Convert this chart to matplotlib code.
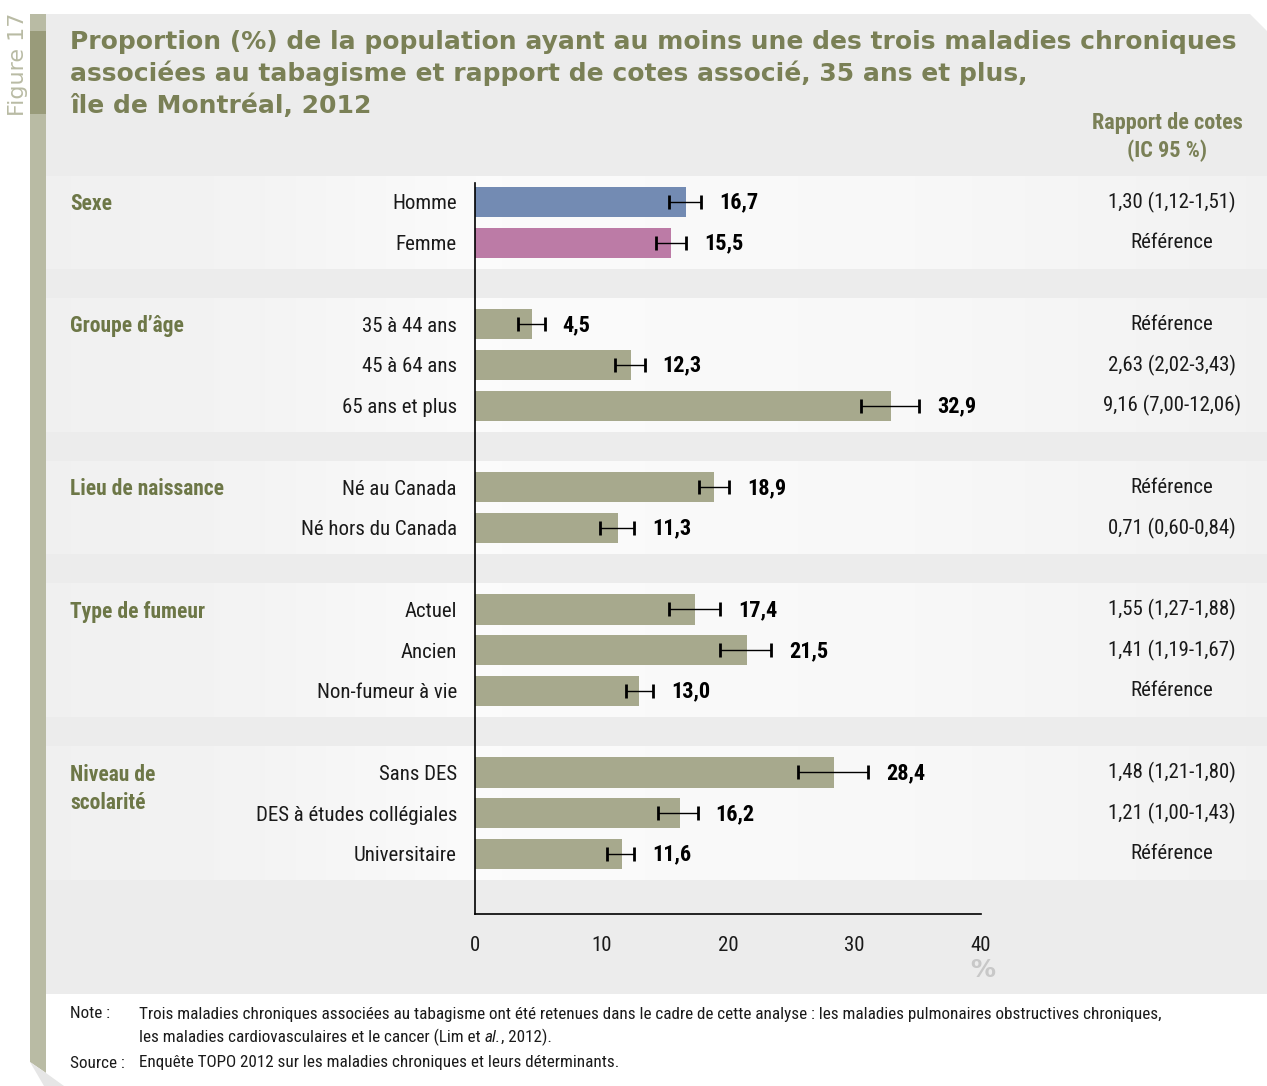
"""Proportion de la population ayant au moins une maladie chronique associée au tabagisme, Montréal 2012."""

import matplotlib

matplotlib.use("Agg")
import matplotlib.pyplot as plt
import numpy as np
from matplotlib import font_manager
from matplotlib.patches import Polygon, Rectangle
from matplotlib.transforms import blended_transform_factory

W, H = 1267, 1086

GROUPS = ["Sexe", "Groupe d’âge", "Lieu de naissance", "Type de fumeur", "Niveau de\nscolarité"]
CATEGORIES = [
    ["Homme", "Femme"],
    ["35 à 44 ans", "45 à 64 ans", "65 ans et plus"],
    ["Né au Canada", "Né hors du Canada"],
    ["Actuel", "Ancien", "Non-fumeur à vie"],
    ["Sans DES", "DES à études collégiales", "Universitaire"],
]
PROPORTION = [[16.7, 15.5], [4.5, 12.3, 32.9], [18.9, 11.3], [17.4, 21.5, 13.0], [28.4, 16.2, 11.6]]
CI_LOW = [[15.3, 14.3], [3.4, 11.1, 30.5], [17.7, 9.9], [15.3, 19.4, 11.9], [25.5, 14.5, 10.4]]
CI_HIGH = [[17.9, 16.7], [5.5, 13.4, 35.1], [20.1, 12.6], [19.4, 23.4, 14.1], [31.1, 17.6, 12.6]]
ODDS_RATIO = [
    ["1,30 (1,12-1,51)", "Référence"],
    ["Référence", "2,63 (2,02-3,43)", "9,16 (7,00-12,06)"],
    ["Référence", "0,71 (0,60-0,84)"],
    ["1,55 (1,27-1,88)", "1,41 (1,19-1,67)", "Référence"],
    ["1,48 (1,21-1,80)", "1,21 (1,00-1,43)", "Référence"],
]
XTICKS = [0, 10, 20, 30, 40]

TITLE = [
    "Proportion (%) de la population ayant au moins une des trois maladies chroniques",
    "associées au tabagisme et rapport de cotes associé, 35 ans et plus,",
    "île de Montréal, 2012",
]

PANEL = "#ECECEC"
OLIVE_LIGHT = "#B9BBA4"
OLIVE_DARK = "#999B7A"
TITLE_COLOR = "#7A8056"
GROUP_COLOR = "#6D7747"
BAR_OLIVE = "#A7A98D"
SEX_COLORS = ["#738BB3", "#BC7BA6"]

# layout in pixels
ROW0_PX, ROW_PX = 202, 40.75
AX_LEFT, AX_RIGHT, AX_TOP, AX_BOTTOM = 475, 981, 183, 914


def pick_font(candidates):
    names = {f.name for f in font_manager.fontManager.ttflist}
    for c in candidates:
        if c in names:
            return c
    return "DejaVu Sans"


COND = pick_font(["Liberation Sans Narrow", "Roboto Condensed", "Open Sans Condensed", "Roboto"])


def main():
    # flatten rows, leaving one empty row between groups
    pos, labels, vals, lo, hi, ors, colors, group_pos = [], [], [], [], [], [], [], []
    p = 0
    for g, cats in enumerate(CATEGORIES):
        group_pos.append(p)
        for i, c in enumerate(cats):
            pos.append(p)
            labels.append(c)
            vals.append(PROPORTION[g][i])
            lo.append(CI_LOW[g][i])
            hi.append(CI_HIGH[g][i])
            ors.append(ODDS_RATIO[g][i])
            colors.append(SEX_COLORS[i] if g == 0 else BAR_OLIVE)
            p += 1
        p += 1
    pos = np.array(pos)
    vals = np.array(vals)
    lo = np.array(lo)
    hi = np.array(hi)

    fig = plt.figure(figsize=(W / 100, H / 100), dpi=100)
    fig.patch.set_facecolor("white")

    # --- background decoration (pixel coords) ---
    bg = fig.add_axes([0, 0, 1, 1])
    bg.axis("off")
    bg.add_patch(Polygon([(46, 14), (1250, 14), (1267, 31), (1267, 994), (46, 994)],
                         closed=True, fc=PANEL, ec="none", zorder=0))
    bg.add_patch(Polygon([(30, 14), (46, 14), (46, 1073), (30, 1062)], closed=True,
                         fc=OLIVE_LIGHT, ec="none", zorder=1))
    bg.add_patch(Rectangle((30, 31), 16, 83, fc=OLIVE_DARK, ec="none", zorder=2))
    bg.add_patch(Polygon([(30, 1062), (46, 1073), (64, 1086), (44, 1086)], closed=True,
                         fc="#E6E6E6", ec="none", zorder=1))

    # group bands with a soft horizontal gradient
    xs = np.linspace(46, W, 300)
    alpha = np.interp(xs, [46, 250, 480, 900, W], [0.25, 0.4, 0.8, 0.65, 0.3])
    grad = np.ones((1, len(xs), 4))
    grad[0, :, 3] = alpha
    for g, cats in enumerate(CATEGORIES):
        top = ROW0_PX + (group_pos[g] - 0.62) * ROW_PX
        bot = ROW0_PX + (group_pos[g] + len(cats) - 1 + 0.65) * ROW_PX
        bg.imshow(grad, extent=(46, W, bot, top), aspect="auto", interpolation="bilinear", zorder=1)
    bg.set_xlim(0, W)
    bg.set_ylim(H, 0)

    bg.text(18, 13, "Figure 17", rotation=90, ha="center", va="top", fontsize=16,
            color=OLIVE_LIGHT, family="DejaVu Sans")
    for i, line in enumerate(TITLE):
        bg.text(70, 49 + i * 32, line, ha="left", va="baseline", fontsize=18, fontweight="bold",
                color=TITLE_COLOR, family="DejaVu Sans")
    bg.text(1167, 123, "Rapport de cotes", ha="center", va="center", fontsize=16,
            fontweight="bold", color=TITLE_COLOR, family=COND)
    bg.text(1167, 151, "(IC 95 %)", ha="center", va="center", fontsize=16,
            fontweight="bold", color=TITLE_COLOR, family=COND)
    bg.text(983, 970, "%", ha="center", va="center", fontsize=18, fontweight="bold",
            color="#C8C8C8", family="DejaVu Sans")

    # --- notes ---
    note_kw = dict(fontsize=12.3, color="#1A1A1A", family=COND, va="center", ha="left")
    bg.text(70, 1014, "Note :", **note_kw)
    bg.text(139, 1014, "Trois maladies chroniques associées au tabagisme ont été retenues dans le cadre "
            "de cette analyse : les maladies pulmonaires obstructives chroniques,", **note_kw)
    renderer = fig.canvas.get_renderer()
    x = 139
    for piece, style in [("les maladies cardiovasculaires et le cancer (Lim et ", "normal"),
                         ("al.", "italic"), (", 2012).", "normal")]:
        t = bg.text(x, 1037, piece, style=style, **note_kw)
        bb = t.get_window_extent(renderer)
        x += bb.width
    bg.text(70, 1063, "Source :", **note_kw)
    bg.text(139, 1063, "Enquête TOPO 2012 sur les maladies chroniques et leurs déterminants.", **note_kw)

    # --- bar chart ---
    ax = fig.add_axes([AX_LEFT / W, 1 - AX_BOTTOM / H, (AX_RIGHT - AX_LEFT) / W, (AX_BOTTOM - AX_TOP) / H])
    ax.set_facecolor("none")
    ax.barh(pos, vals, height=0.74, color=colors, zorder=2)
    ax.errorbar(vals, pos, xerr=[vals - lo, hi - vals], fmt="none", ecolor="black",
                elinewidth=1.0, capsize=5, capthick=2.0, zorder=3)
    for y, v, h in zip(pos, vals, hi):
        ax.annotate(f"{v:.1f}".replace(".", ","), xy=(h, y), xytext=(13, -0.5), textcoords="offset points",
                    ha="left", va="center", fontsize=16, fontweight="bold", family=COND, color="black")

    ax.set_xlim(0, 40)
    top_lim = -(ROW0_PX - AX_TOP) / ROW_PX
    bot_lim = pos.max() + (AX_BOTTOM - (ROW0_PX + pos.max() * ROW_PX)) / ROW_PX
    ax.set_ylim(bot_lim, top_lim)
    ax.set_xticks(XTICKS)
    ax.set_xticklabels([str(t) for t in XTICKS], family=COND, fontsize=15, color="#1A1A1A")
    ax.set_yticks(pos)
    ax.set_yticklabels(labels, family=COND, fontsize=15, color="#1A1A1A")
    ax.tick_params(axis="both", length=0)
    ax.tick_params(axis="x", pad=16)
    ax.tick_params(axis="y", pad=13)
    for side in ["top", "right"]:
        ax.spines[side].set_visible(False)
    for side in ["left", "bottom"]:
        ax.spines[side].set_linewidth(1.2)
        ax.spines[side].set_color("black")

    # group names on the left, odds ratios on the right
    tr = blended_transform_factory(bg.transData, ax.transData)
    for g, name in enumerate(GROUPS):
        for i, line in enumerate(name.split("\n")):
            ax.annotate(line, xy=(70, group_pos[g]), xycoords=tr, xytext=(0, -1.5 - i * 20.5),
                        textcoords="offset points", ha="left", va="center", fontsize=15.5,
                        fontweight="bold", color=GROUP_COLOR, family=COND, annotation_clip=False)
    for y, txt in zip(pos, ors):
        ax.text(1172, y, txt, transform=tr, ha="center", va="center", fontsize=15,
                family=COND, color="#1A1A1A")

    fig.savefig("out.png", dpi=100)
    plt.close(fig)


if __name__ == "__main__":
    main()
